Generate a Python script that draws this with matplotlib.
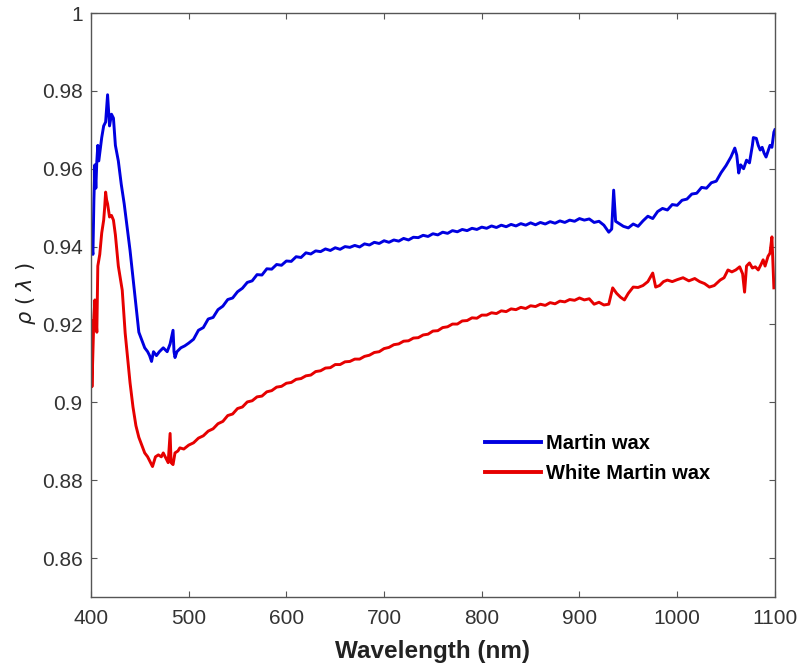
import matplotlib
matplotlib.use("Agg")
import matplotlib.pyplot as plt

blue_wl = [400, 401, 402, 403, 404, 405, 406, 407, 408, 409, 411, 413, 415, 417, 418, 419, 421, 423, 425, 428,
           431, 434, 437, 440, 443, 446, 449, 452, 455, 458, 460, 462, 464, 467, 470, 474, 478, 481, 484, 485,
           486, 488, 492, 496,
           500, 505, 510, 515, 520, 525, 530, 535, 540, 545, 550, 555, 560, 565, 570, 575, 580, 585, 590, 595,
           600, 605, 610, 615, 620, 625, 630, 635, 640, 645, 650, 655, 660, 665, 670, 675, 680, 685, 690, 695,
           700, 705, 710, 715, 720, 725, 730, 735, 740, 745, 750, 755, 760, 765, 770, 775, 780, 785, 790, 795,
           800, 805, 810, 815, 820, 825, 830, 835, 840, 845, 850, 855, 860, 865, 870, 875, 880, 885, 890, 895,
           900, 905, 910, 915, 920, 925, 930, 933, 935, 937, 940, 945, 950, 955, 960, 965, 970, 975, 980, 985,
           990, 995, 1000, 1005, 1010, 1015, 1020, 1025, 1030, 1035, 1040, 1045, 1050, 1055, 1059, 1061, 1063, 1065,
           1068, 1071, 1074, 1077, 1078, 1081, 1083, 1085, 1087, 1089, 1091, 1093, 1095, 1097, 1099, 1100]
blue_val = [0.945, 0.940, 0.938, 0.952, 0.961, 0.955, 0.962, 0.966, 0.962, 0.964, 0.968, 0.971, 0.972, 0.979, 0.975, 0.971, 0.974, 0.973, 0.966, 0.962,
            0.956, 0.951, 0.945, 0.939, 0.932, 0.925, 0.918, 0.916, 0.914, 0.913, 0.912, 0.9105, 0.913, 0.912, 0.913, 0.914, 0.913, 0.915, 0.9185, 0.913,
            0.9115, 0.913, 0.914, 0.9145,
            0.9152, 0.9162, 0.9185, 0.9192, 0.9214, 0.9218, 0.9238, 0.9247, 0.9264, 0.9268, 0.9284, 0.9293, 0.9308, 0.9312, 0.9328, 0.9327, 0.9343, 0.9342, 0.9354, 0.9352,
            0.9363, 0.9362, 0.9374, 0.9372, 0.9384, 0.9381, 0.9389, 0.9387, 0.9394, 0.9390, 0.9397, 0.9393, 0.9400, 0.9398, 0.9403, 0.9399, 0.9407, 0.9404, 0.9411, 0.9408,
            0.9415, 0.9411, 0.9417, 0.9414, 0.9421, 0.9417, 0.9424, 0.9423, 0.9429, 0.9426, 0.9433, 0.9430, 0.9437, 0.9434, 0.9441, 0.9438, 0.9444, 0.9441, 0.9447, 0.9444,
            0.9450, 0.9447, 0.9453, 0.9449, 0.9455, 0.9451, 0.9457, 0.9453, 0.9459, 0.9455, 0.9461, 0.9456, 0.9462, 0.9458, 0.9464, 0.9460, 0.9466, 0.9462, 0.9468, 0.9465,
            0.9472, 0.9468, 0.9471, 0.9462, 0.9465, 0.9455, 0.9437, 0.9445, 0.9545, 0.9465, 0.9460, 0.9452, 0.9448, 0.9458, 0.9452, 0.9466, 0.9478, 0.9472, 0.9490, 0.9498,
            0.9494, 0.9508, 0.9506, 0.9519, 0.9522, 0.9535, 0.9537, 0.9552, 0.9550, 0.9564, 0.9568, 0.9590, 0.9608, 0.9630, 0.9653, 0.9635, 0.9589, 0.9610,
            0.9600, 0.9622, 0.9615, 0.9660, 0.9680, 0.9678, 0.9660, 0.9648, 0.9655, 0.9640, 0.9630, 0.9645, 0.9660, 0.9655, 0.9694, 0.9700]

red_wl = [400, 401, 402, 403, 404, 405, 406, 407, 409, 411, 413, 414, 415, 416, 417, 419, 421, 423, 425, 428,
          432, 435, 438, 440, 443, 446, 449, 452, 455, 458, 461, 463, 466, 469, 472, 474, 477, 479, 481, 482,
          484, 486, 489, 491, 495,
          500, 505, 510, 515, 520, 525, 530, 535, 540, 545, 550, 555, 560, 565, 570, 575, 580, 585, 590, 595,
          600, 605, 610, 615, 620, 625, 630, 635, 640, 645, 650, 655, 660, 665, 670, 675, 680, 685, 690, 695,
          700, 705, 710, 715, 720, 725, 730, 735, 740, 745, 750, 755, 760, 765, 770, 775, 780, 785, 790, 795,
          800, 805, 810, 815, 820, 825, 830, 835, 840, 845, 850, 855, 860, 865, 870, 875, 880, 885, 890, 895,
          900, 905, 910, 915, 920, 925, 930, 934, 938, 942, 946, 950, 955, 960, 965, 970, 975, 978, 982, 986,
          990, 995, 1000, 1006, 1012, 1018, 1023, 1028, 1033, 1038, 1044, 1048, 1052, 1056, 1060, 1064, 1067, 1069,
          1071, 1074, 1077, 1080, 1083, 1086, 1088, 1090, 1093, 1095, 1097, 1098, 1099]
red_val = [0.921, 0.904, 0.913, 0.922, 0.9263, 0.922, 0.918, 0.935, 0.938, 0.9435, 0.9468, 0.950, 0.954, 0.952, 0.951, 0.9476, 0.948, 0.9468, 0.943, 0.935,
           0.9288, 0.9178, 0.910, 0.905, 0.8988, 0.894, 0.891, 0.889, 0.887, 0.886, 0.8845, 0.8835, 0.886, 0.8865, 0.886, 0.887, 0.8855, 0.8845, 0.892, 0.8845,
           0.8840, 0.887, 0.8875, 0.8883, 0.888,
           0.8890, 0.8896, 0.8908, 0.8914, 0.8926, 0.8932, 0.8945, 0.8951, 0.8966, 0.8970, 0.8984, 0.8988, 0.9001, 0.9004, 0.9014, 0.9016, 0.9027, 0.9030, 0.9039, 0.9041,
           0.9049, 0.9051, 0.9059, 0.9061, 0.9068, 0.9070, 0.9079, 0.9081, 0.9088, 0.9089, 0.9097, 0.9097, 0.9104, 0.9105, 0.9111, 0.9111, 0.9118, 0.9121, 0.9128, 0.9130,
           0.9138, 0.9141, 0.9148, 0.9150, 0.9157, 0.9158, 0.9165, 0.9166, 0.9173, 0.9175, 0.9183, 0.9184, 0.9192, 0.9194, 0.9201, 0.9201, 0.9209, 0.9210, 0.9217, 0.9216,
           0.9224, 0.9224, 0.9230, 0.9228, 0.9235, 0.9233, 0.9240, 0.9238, 0.9244, 0.9241, 0.9248, 0.9246, 0.9252, 0.9249, 0.9256, 0.9253, 0.9260, 0.9258, 0.9264, 0.9262,
           0.9268, 0.9263, 0.9266, 0.9252, 0.9257, 0.9250, 0.9252, 0.9294, 0.9280, 0.9270, 0.9263, 0.9280, 0.9296, 0.9295, 0.9300, 0.9310, 0.9332, 0.9296, 0.9300, 0.9310,
           0.9314, 0.9310, 0.9315, 0.9320, 0.9312, 0.9318, 0.9310, 0.9305, 0.9296, 0.9300, 0.9314, 0.9320, 0.9340, 0.9335, 0.9340, 0.9348, 0.9330, 0.9283,
           0.9350, 0.9358, 0.9345, 0.9348, 0.9340, 0.9355, 0.9366, 0.9350, 0.9375, 0.9383, 0.9425, 0.9360, 0.9294]

x_ticks = [400, 500, 600, 700, 800, 900, 1000, 1100]
y_ticks = [0.86, 0.88, 0.9, 0.92, 0.94, 0.96, 0.98, 1.0]
y_ticklabels = ["0.86", "0.88", "0.9", "0.92", "0.94", "0.96", "0.98", "1"]

plt.rcParams['font.family'] = ['Liberation Sans', 'DejaVu Sans']

fig = plt.figure(figsize=(7.98, 6.67), dpi=100)
ax = fig.add_axes([0.114, 0.105, 0.857, 0.8755])

ax.plot(blue_wl, blue_val, color='#0000e0', lw=2.1, label='Martin wax')
ax.plot(red_wl, red_val, color='#e60000', lw=2.1, label='White Martin wax')

ax.set_xlim(400, 1100)
ax.set_ylim(0.85, 1.0)
ax.set_xticks(x_ticks)
ax.set_yticks(y_ticks)
ax.set_yticklabels(y_ticklabels)

for s in ax.spines.values():
    s.set_color('#555555')
    s.set_linewidth(1.0)
ax.tick_params(direction='in', length=4, width=0.8, colors='#555555', labelcolor='#333333',
               labelsize=15, top=True, right=True)
ax.tick_params(axis='x', pad=9)
ax.tick_params(axis='y', pad=6)

ax.set_xlabel('Wavelength (nm)', fontsize=17.5, fontweight='bold', color='#222222', labelpad=8)
ax.set_ylabel(r'$\rho\ (\ \lambda\ )$', fontsize=15, color='#222222')
ax.yaxis.set_label_coords(-0.077, 0.52)

leg = ax.legend(loc='upper left', bbox_to_anchor=(0.565, 0.293), frameon=False,
                prop={'weight': 'bold', 'size': 14.5}, handlelength=2.75, handletextpad=0.25,
                labelspacing=0.55, borderaxespad=0)
for line in leg.get_lines():
    line.set_linewidth(2.8)

fig.savefig('out.png', dpi=100)
